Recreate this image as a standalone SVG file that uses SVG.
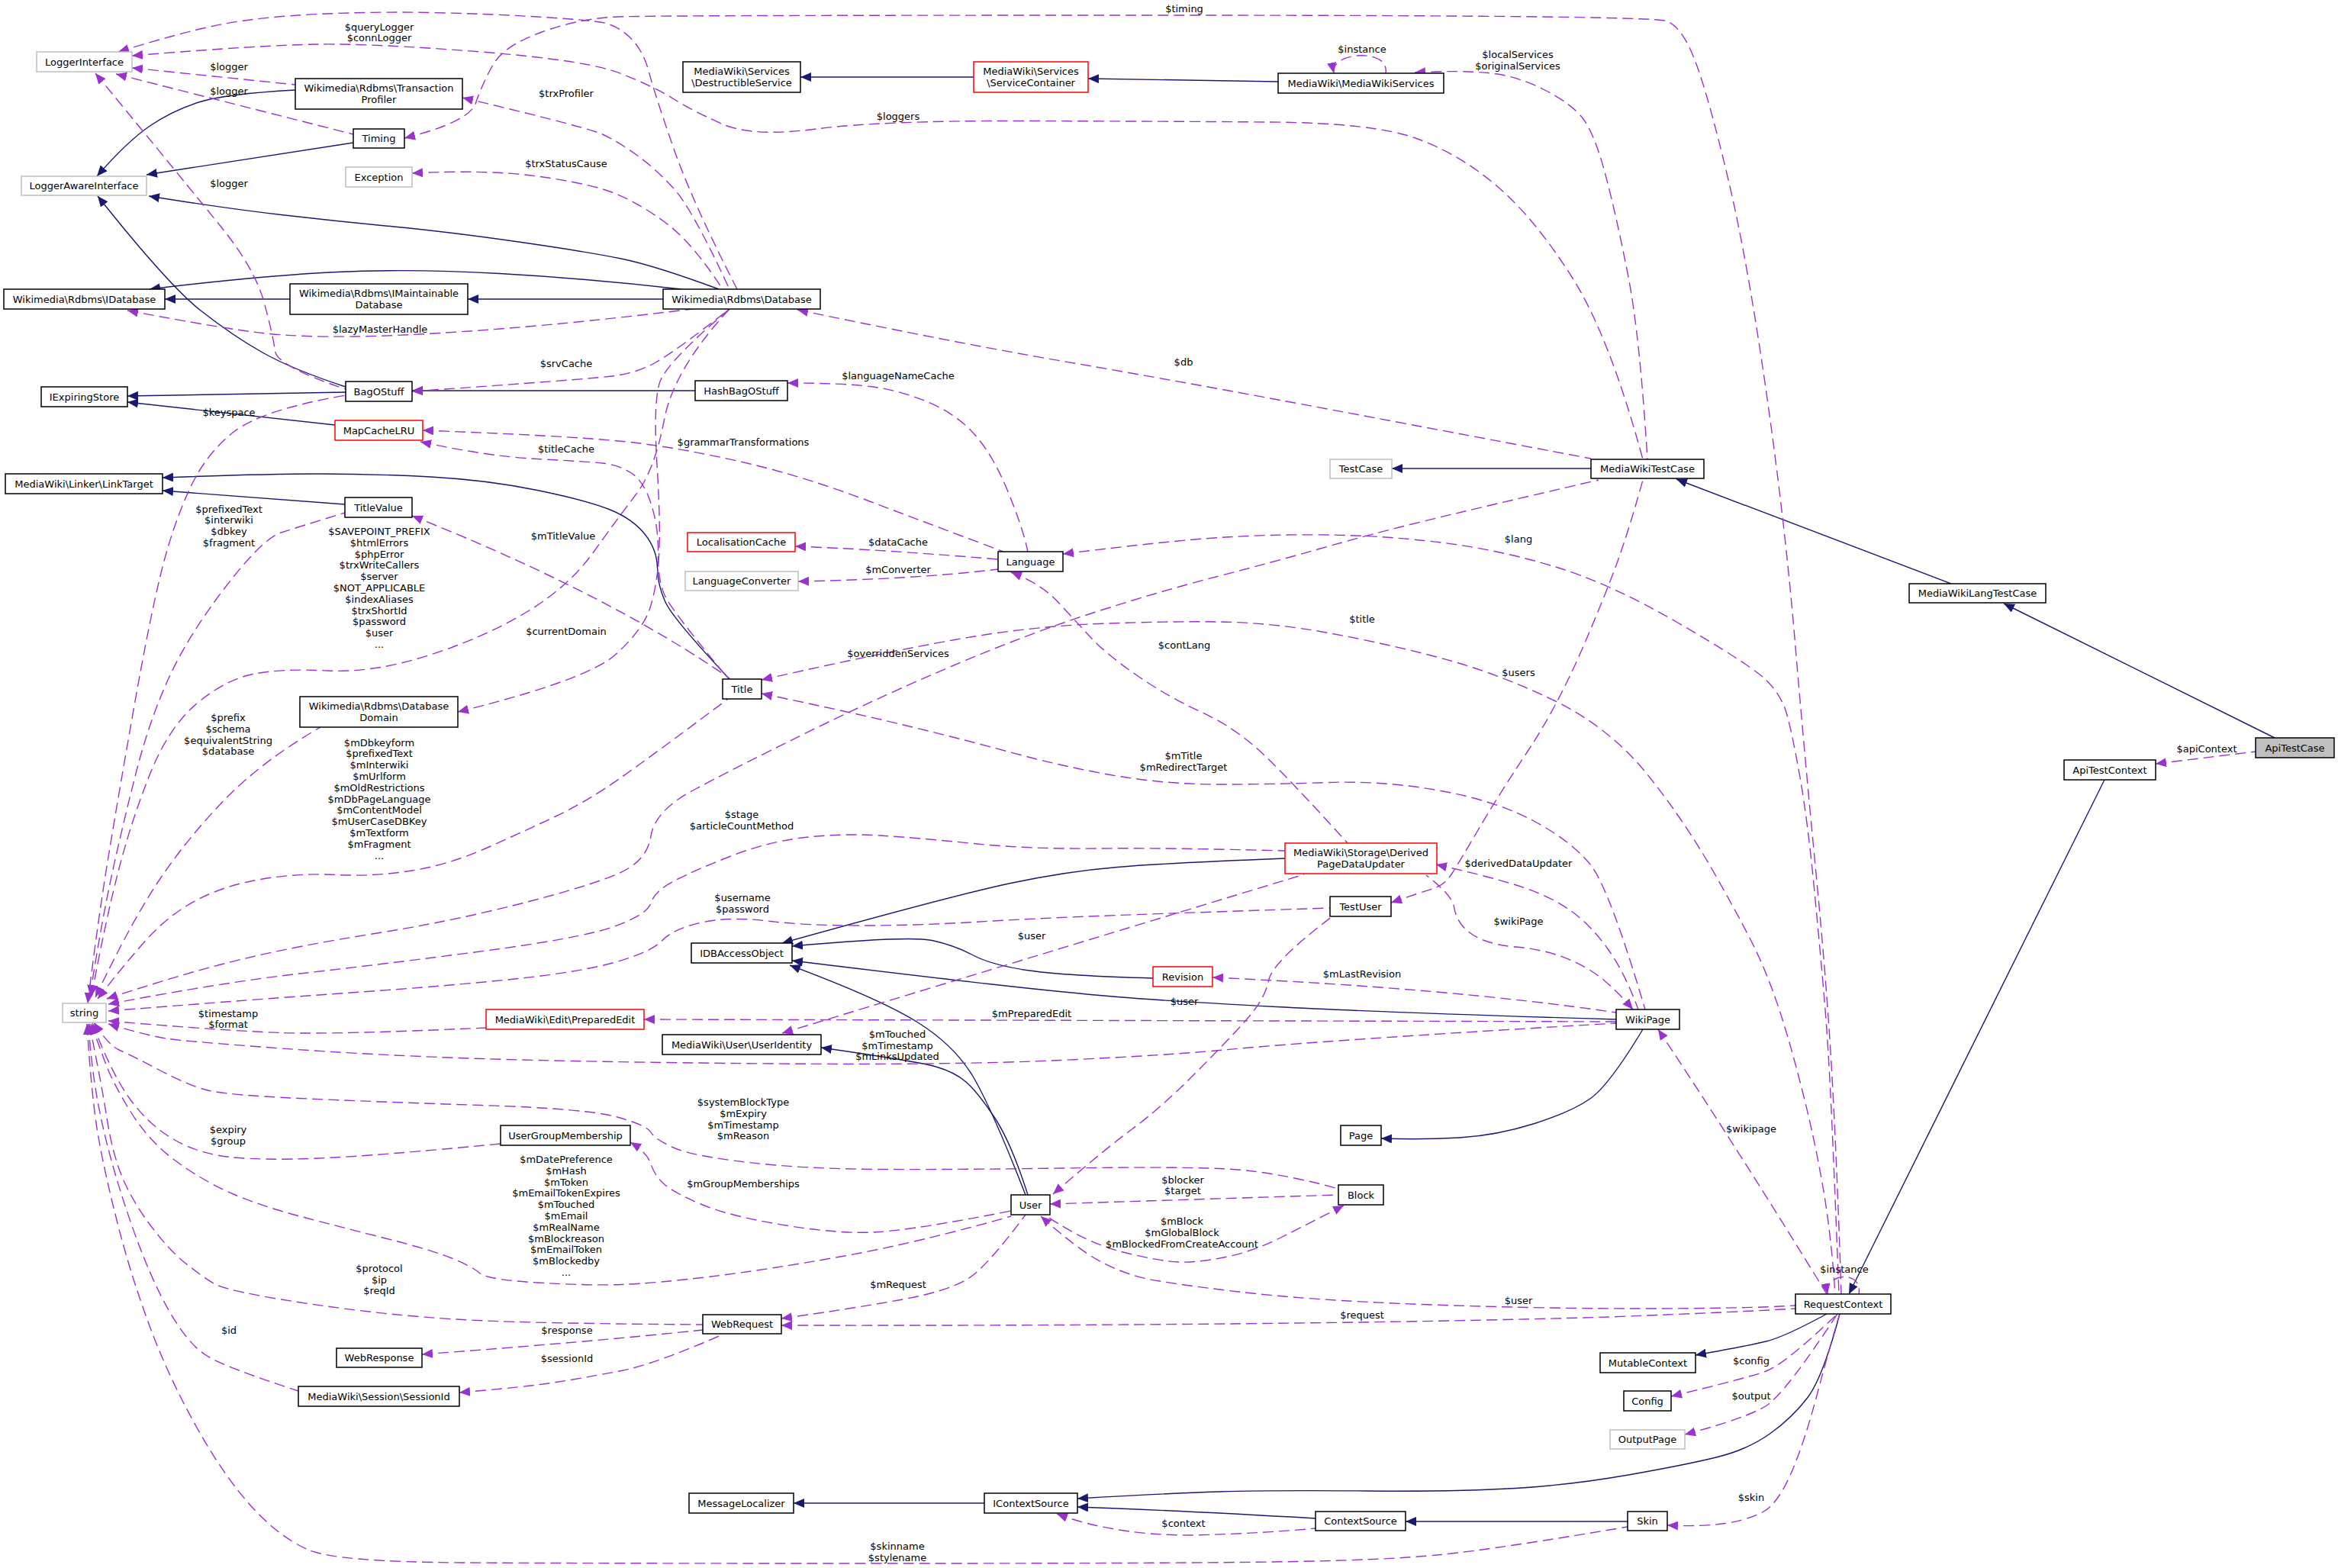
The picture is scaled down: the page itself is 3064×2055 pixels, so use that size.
<svg xmlns="http://www.w3.org/2000/svg" width="3064" height="2055" viewBox="0 0 3064 2055">
<style>
text{font-family:"DejaVu Sans","Liberation Sans",sans-serif;font-size:13px;fill:#000}
.nd rect{fill:#fff;stroke:#000;stroke-width:1.5}
.nd.g rect{stroke:#bfbfbf}
.nd.r rect{stroke:#ff0000}
.nd.f rect{fill:#bfbfbf}
.nd text,.lb text{text-anchor:middle}
.i{fill:none;stroke:#191970;stroke-width:1.4;marker-start:url(#ai)}
.u{fill:none;stroke:#9a32cd;stroke-width:1.4;stroke-dasharray:14,7;marker-start:url(#au)}
</style>
<defs>
<marker id="ai" viewBox="0 0 14 12" refX="14" refY="6" markerWidth="14" markerHeight="12" markerUnits="userSpaceOnUse" orient="auto-start-reverse"><path d="M0,0 L14,6 L0,12 z" fill="#191970"/></marker>
<marker id="au" viewBox="0 0 14 12" refX="14" refY="6" markerWidth="14" markerHeight="12" markerUnits="userSpaceOnUse" orient="auto-start-reverse"><path d="M0,0 L14,6 L0,12 z" fill="#9a32cd"/></marker>
</defs>
<rect x="0" y="0" width="3064" height="2055" fill="#fff"/>
<g id="connectors">
<!-- inheritance -->
<path class="i" d="M127,231 Q167,185 196.5,165 Q226,145 260.5,134 Q295,123 387,118"/>
<path class="i" d="M192,229 L463,187"/>
<path class="i" d="M195,257 Q295,273 368.5,281.5 Q442,290 515.5,297 Q589,304 679.5,317 Q770,330 814,339 Q858,348 942,379"/>
<path class="i" d="M196,379 Q344,361 442,356.5 Q540,352 655,358.5 Q770,365 893,379"/>
<path class="i" d="M216,392 L380,392"/>
<path class="i" d="M613,392 L869,392"/>
<path class="i" d="M128,257 Q221,374 263,407 Q305,440 344,462 Q383,484 453,507"/>
<path class="i" d="M167,519 L453,514"/>
<path class="i" d="M167,527 L439,557"/>
<path class="i" d="M540,512 L911,512"/>
<path class="i" d="M213,626 Q344,621 417.5,621 Q491,621 564.5,625 Q638,629 704,642.5 Q770,656 799.5,668 Q829,680 845,700 Q861,720 861.5,744 Q862,768 872.5,790 Q883,812 956,890"/>
<path class="i" d="M213,643 L452,661"/>
<path class="i" d="M1049,101 L1276,101"/>
<path class="i" d="M1426,103 L1675,107"/>
<path class="i" d="M1824,614 L2085,614"/>
<path class="i" d="M2197,628 L2557,765"/>
<path class="i" d="M2626,791 L2981,967"/>
<path class="i" d="M1025,1236 Q1251,1173 1324.5,1157.5 Q1398,1142 1464,1136.5 Q1530,1131 1684,1125"/>
<path class="i" d="M1038,1240 Q1192,1226 1221.5,1232.5 Q1251,1239 1275.5,1252 Q1300,1265 1349,1272 Q1398,1279 1511,1282"/>
<path class="i" d="M1038,1259 Q1202,1279 1300,1290 Q1398,1301 1464,1306.5 Q1530,1312 1672.5,1319.5 Q1815,1327 2118,1336"/>
<path class="i" d="M1035,1265 Q1153,1309 1202,1339.5 Q1251,1370 1275.5,1411.5 Q1300,1453 1344,1566"/>
<path class="i" d="M1076,1373 Q1202,1391 1226.5,1398 Q1251,1405 1266,1418 Q1281,1431 1303,1464 Q1325,1497 1347,1566"/>
<path class="i" d="M1810,1492 Q1864,1494 1913,1491 Q1962,1488 2011,1472.5 Q2060,1457 2084.5,1439.5 Q2109,1422 2153,1349"/>
<path class="i" d="M2423,1696 L2758,1022"/>
<path class="i" d="M2222,1776 Q2290,1764 2314.5,1758 Q2339,1752 2394,1722"/>
<path class="i" d="M1412,1964 Q1530,1957 1598.5,1955 Q1667,1953 1790,1954 Q1913,1955 1986.5,1950.5 Q2060,1946 2134,1933 Q2208,1920 2249,1910 Q2290,1900 2319.5,1879 Q2349,1858 2369,1831.5 Q2389,1805 2411,1722"/>
<path class="i" d="M1412,1975 Q1530,1979 1724,1990"/>
<path class="i" d="M1842,1994 L2133,1994"/>
<path class="i" d="M1040,1970 L1290,1970"/>
<!-- usage -->
<path class="u" d="M530,181 Q615,160 623.5,135 Q632,110 646,85 Q660,60 710,42 Q760,24 809,22 Q858,20 1510.5,20 Q2163,20 2184,27.5 Q2205,35 2222.5,82.5 Q2240,130 2265,235.5 Q2290,341 2314.5,512 Q2339,683 2352,836.5 Q2365,990 2380,1145 Q2395,1300 2401.5,1420.5 Q2408,1541 2413,1696"/>
<path class="u" d="M155,68 Q246,40 295,31 Q344,22 417.5,18.5 Q491,15 564.5,16.5 Q638,18 704,22 Q770,26 789.5,29.5 Q809,33 826,49.5 Q843,66 850.5,94.5 Q858,123 882.5,193.5 Q907,264 966,379"/>
<path class="u" d="M173,89 L387,111"/>
<path class="u" d="M152,97 L463,176"/>
<path class="u" d="M125,96 Q245,242 289.5,297 Q334,352 346,396 Q358,440 360.5,460 Q363,480 453,510"/>
<path class="u" d="M173,73 Q344,59 417.5,58 Q491,57 630.5,68 Q770,79 814,96.5 Q858,114 882.5,129.5 Q907,145 946.5,162.5 Q986,180 1069.5,169 Q1153,158 1341.5,158.5 Q1530,159 1665,160 Q1800,161 1856.5,181.5 Q1913,202 1962,244 Q2011,286 2060,363 Q2109,440 2153,602"/>
<path class="u" d="M606,128 Q770,167 789.5,176 Q809,185 833.5,202.5 Q858,220 882.5,246.5 Q907,273 956,379"/>
<path class="u" d="M540,227 Q638,222 704,231 Q770,240 802,252 Q834,264 870.5,290.5 Q907,317 947,379"/>
<path class="u" d="M167,407 Q295,431 344,436.5 Q393,442 466.5,441 Q540,440 655,431 Q770,422 907,405"/>
<path class="u" d="M540,513 Q770,497 802,493 Q834,489 858.5,475.5 Q883,462 956,405"/>
<path class="u" d="M115,1315 Q128,1208 142.5,1120 Q157,1032 176.5,922 Q196,812 211,751 Q226,690 248,642 Q270,594 307,565.5 Q344,537 453,518"/>
<path class="u" d="M554,564 Q770,572 838.5,581 Q907,590 981,607.5 Q1055,625 1141,657.5 Q1227,690 1315,723"/>
<path class="u" d="M551,579 Q638,598 704,601.5 Q770,605 789.5,607 Q809,609 826,619 Q843,629 853,659.5 Q863,690 862.5,725 Q862,760 871,780 Q880,800 955,890"/>
<path class="u" d="M1032,502 Q1104,502 1140.5,506.5 Q1177,511 1214,526 Q1251,541 1275.5,567.5 Q1300,594 1320,642 Q1340,690 1347,723"/>
<path class="u" d="M1045,406 Q1251,449 1390.5,473 Q1530,497 1672.5,523.5 Q1815,550 2085,601"/>
<path class="u" d="M1748,96 C1742,68 1822,62 1816,96"/>
<path class="u" d="M1854,95 Q1913,92 1950,95.5 Q1987,99 2023.5,117.5 Q2060,136 2075,156 Q2090,176 2104.5,231 Q2119,286 2134,363 Q2149,440 2159,602"/>
<path class="u" d="M2825,1001 L2956,985"/>
<path class="u" d="M1393,726 Q1530,709 1598.5,704.5 Q1667,700 1741,701 Q1815,702 1888.5,711 Q1962,720 2035.5,742 Q2109,764 2199.5,816.5 Q2290,869 2312,889 Q2334,909 2341.5,935.5 Q2349,962 2359,1019 Q2369,1076 2377.5,1164 Q2386,1252 2391,1311 Q2396,1370 2400,1455.5 Q2404,1541 2410,1696"/>
<path class="u" d="M998,891 Q1153,856 1251,838.5 Q1349,821 1439.5,817.5 Q1530,814 1598.5,815 Q1667,816 1741,829.5 Q1815,843 1888.5,862.5 Q1962,882 2035.5,917.5 Q2109,953 2158.5,1014.5 Q2208,1076 2249,1148.5 Q2290,1221 2305,1254 Q2320,1287 2333.5,1328.5 Q2347,1370 2363,1433.5 Q2379,1497 2389.5,1558.5 Q2400,1620 2405,1696"/>
<path class="u" d="M1823,1183 Q1864,1169 1878.5,1164.5 Q1893,1160 1903,1144.5 Q1913,1129 1937.5,1087 Q1962,1045 2001.5,985.5 Q2041,926 2075,847 Q2109,768 2124,724 Q2139,680 2153,629"/>
<path class="u" d="M140,1309 Q246,1274 319.5,1256.5 Q393,1239 491,1223.5 Q589,1208 679.5,1185 Q770,1162 809,1145.5 Q848,1129 853,1096 Q858,1063 907,1036.5 Q956,1010 1054.5,961.5 Q1153,913 1251,871.5 Q1349,830 1434.5,802.5 Q1520,775 1593.5,756 Q1667,737 1728.5,719.5 Q1790,702 1834,691 Q1878,680 1920,670 Q1962,660 2095,629"/>
<path class="u" d="M128,1309 Q162,1265 191.5,1232 Q221,1199 258,1179.5 Q295,1160 344,1152 Q393,1144 442,1146.5 Q491,1149 540,1141 Q589,1133 638.5,1111 Q688,1089 729,1069.5 Q770,1050 814,1019 Q858,988 954,916"/>
<path class="u" d="M120,1305 Q138,1208 155,1142 Q172,1076 196.5,1014.5 Q221,953 258,922 Q295,891 331.5,883.5 Q368,876 429.5,879 Q491,882 564.5,858 Q638,834 692,801 Q746,768 777.5,724 Q809,680 833.5,648 Q858,616 870.5,550 Q883,484 956,405"/>
<path class="u" d="M125,1307 Q172,1208 209,1153 Q246,1098 295,1047.5 Q344,997 420,953"/>
<path class="u" d="M118,1305 Q133,1208 147.5,1142 Q162,1076 179,1010 Q196,944 221,889 Q246,834 295,770 Q344,706 368.5,698 Q393,690 452,672"/>
<path class="u" d="M540,676 C600,700 800,780 956,889"/>
<path class="u" d="M600,933 Q770,891 806.5,858 Q843,825 852,796.5 Q861,768 863.5,729 Q866,690 861,609 Q856,528 864.5,501.5 Q873,475 956,405"/>
<path class="u" d="M1042,716 Q1153,720 1308,733"/>
<path class="u" d="M1046,762 Q1202,759 1308,746"/>
<path class="u" d="M1325,750 Q1364,765 1386,788.5 Q1408,812 1428,834 Q1448,856 1489,884.5 Q1530,913 1574,933 Q1618,953 1655,988 Q1692,1023 1766,1105"/>
<path class="u" d="M998,909 Q1104,931 1177.5,948.5 Q1251,966 1324.5,986 Q1398,1006 1464,1017 Q1530,1028 1598.5,1028 Q1667,1028 1741,1025.5 Q1815,1023 1888.5,1036.5 Q1962,1050 2011,1076.5 Q2060,1103 2084.5,1133.5 Q2109,1164 2156,1323"/>
<path class="u" d="M142,1316 Q295,1287 393,1276 Q491,1265 625.5,1247.5 Q760,1230 804,1214.5 Q848,1199 853,1183.5 Q858,1168 882.5,1155 Q907,1142 956.5,1122.5 Q1006,1103 1055,1097.5 Q1104,1092 1153,1095 Q1202,1098 1275.5,1105.5 Q1349,1113 1439.5,1112 Q1530,1111 1684,1115"/>
<path class="u" d="M142,1325 Q344,1309 466.5,1300.5 Q589,1292 674.5,1283 Q760,1274 806.5,1261 Q853,1248 868,1232.5 Q883,1217 919.5,1209 Q956,1201 1005.5,1207 Q1055,1213 1128.5,1213 Q1202,1213 1275.5,1208.5 Q1349,1204 1439.5,1200.5 Q1530,1197 1743,1190"/>
<path class="u" d="M1025,1354 Q1400,1240 1709,1146"/>
<path class="u" d="M844,1336 L2118,1339"/>
<path class="u" d="M142,1342 Q196,1358 221,1361.5 Q246,1365 368.5,1374 Q491,1383 630.5,1387.5 Q770,1392 1010.5,1394 Q1251,1396 1390.5,1389.5 Q1530,1383 1598.5,1376.5 Q1667,1370 1790,1361.5 Q1913,1353 2118,1341"/>
<path class="u" d="M142,1338 Q295,1351 368.5,1353.5 Q442,1356 637,1347"/>
<path class="u" d="M1589,1281 Q1900,1295 2118,1327"/>
<path class="u" d="M1882,1133 Q1962,1151 1999,1164 Q2036,1177 2060.5,1195 Q2085,1213 2107,1243.5 Q2129,1274 2147,1323"/>
<path class="u" d="M2140,1323 Q2109,1287 2084.5,1272 Q2060,1257 2035.5,1250 Q2011,1243 1986.5,1241 Q1962,1239 1945,1232.5 Q1928,1226 1918,1215 Q1908,1204 1905.5,1188.5 Q1903,1173 1869,1147"/>
<path class="u" d="M2173,1349 Q2280,1510 2394,1696"/>
<path class="u" d="M123,1340 Q142,1370 157,1376.5 Q172,1383 209,1402.5 Q246,1422 270.5,1428.5 Q295,1435 393,1439.5 Q491,1444 630.5,1448.5 Q770,1453 809,1464 Q848,1475 853,1484 Q858,1493 882.5,1504 Q907,1515 981,1523.5 Q1055,1532 1153,1532.5 Q1251,1533 1390.5,1531 Q1530,1529 1598.5,1531.5 Q1667,1534 1754,1558"/>
<path class="u" d="M121,1341 Q147,1409 171.5,1442 Q196,1475 228,1493.5 Q260,1512 302,1516.5 Q344,1521 417.5,1518 Q491,1515 656,1499"/>
<path class="u" d="M826,1497 Q848,1510 853,1525.5 Q858,1541 870.5,1552 Q883,1563 919.5,1578.5 Q956,1594 1030,1606 Q1104,1618 1153,1614.5 Q1202,1611 1325,1587"/>
<path class="u" d="M119,1342 Q128,1365 137.5,1391.5 Q147,1418 171.5,1457.5 Q196,1497 233,1523.5 Q270,1550 307,1565.5 Q344,1581 393,1594 Q442,1607 503.5,1622.5 Q565,1638 592,1649 Q619,1660 628.5,1668.5 Q638,1677 704,1681 Q770,1685 814,1683.5 Q858,1682 932,1673 Q1006,1664 1104,1646.5 Q1202,1629 1325,1594"/>
<path class="u" d="M117,1342 Q133,1420 140,1465 Q147,1510 159.5,1541 Q172,1572 196.5,1605 Q221,1638 243,1655.5 Q265,1673 280,1682 Q295,1691 368.5,1703 Q442,1715 515.5,1722.5 Q589,1730 679.5,1732.5 Q770,1735 921,1736"/>
<path class="u" d="M553,1775 Q770,1759 921,1743"/>
<path class="u" d="M602,1825 Q688,1818 729,1811.5 Q770,1805 814,1796.5 Q858,1788 947,1749"/>
<path class="u" d="M116,1342 Q120,1409 133.5,1470.5 Q147,1532 171.5,1602.5 Q196,1673 221,1717 Q246,1761 270.5,1776.5 Q295,1792 391,1823"/>
<path class="u" d="M114,1342 Q120,1440 129,1490.5 Q138,1541 155,1607 Q172,1673 196.5,1739 Q221,1805 258,1871 Q295,1937 331.5,1976.5 Q368,2016 405,2031.5 Q442,2047 606,2048 Q770,2049 1145,2049 Q1520,2049 1667.5,2047 Q1815,2045 1888.5,2037.5 Q1962,2030 2133,2001"/>
<path class="u" d="M1024,1728 Q1104,1717 1177.5,1704 Q1251,1691 1275.5,1671 Q1300,1651 1344,1592"/>
<path class="u" d="M1024,1737 Q1700,1738 2109,1726 Q2290,1719 2353,1715"/>
<path class="u" d="M1364,1594 Q1413,1638 1442.5,1653.5 Q1472,1669 1501,1675.5 Q1530,1682 1623,1693 Q1716,1704 1863.5,1709.5 Q2011,1715 2150.5,1715 Q2290,1715 2353,1711"/>
<path class="u" d="M1376,1578 Q1530,1573 1754,1566"/>
<path class="u" d="M1761,1580 Q1716,1603 1679.5,1621.5 Q1643,1640 1606,1647.5 Q1569,1655 1544.5,1654 Q1520,1653 1471.5,1641 Q1423,1629 1369,1592"/>
<path class="u" d="M1380,1565 Q1448,1506 1484,1479.5 Q1520,1453 1564,1409 Q1608,1365 1633,1337 Q1658,1309 1662.5,1285 Q1667,1261 1746,1201"/>
<path class="u" d="M2190,1830 Q2290,1806 2314.5,1797 Q2339,1788 2408,1722"/>
<path class="u" d="M2208,1880 Q2290,1858 2314.5,1842.5 Q2339,1827 2408,1722"/>
<path class="u" d="M2185,1999 Q2232,2001 2261,1996.5 Q2290,1992 2309.5,1982 Q2329,1972 2346.5,1932.5 Q2364,1893 2381.5,1827 Q2399,1761 2411,1722"/>
<path class="u" d="M1385,1984 Q1460,2012 1560,2012 Q1650,2010 1724,2003"/>
<path class="u" d="M2395,1696 C2390,1668 2442,1664 2436,1696"/>
</g>
<g id="edge-labels" class="lb">
<text x="1552" y="15.5">$timing</text>
<text x="497" y="39.5">$queryLogger<tspan x="497" dy="14.5">$connLogger</tspan></text>
<text x="300" y="91.5">$logger</text>
<text x="300" y="123.5">$logger</text>
<text x="300" y="244.5">$logger</text>
<text x="1177" y="156.5">$loggers</text>
<text x="742" y="126.5">$trxProfiler</text>
<text x="742" y="218.5">$trxStatusCause</text>
<text x="498" y="435.5">$lazyMasterHandle</text>
<text x="742" y="480.5">$srvCache</text>
<text x="300" y="545">$keyspace</text>
<text x="974" y="583.5">$grammarTransformations</text>
<text x="742" y="592.5">$titleCache</text>
<text x="1177" y="497">$languageNameCache</text>
<text x="1551" y="479">$db</text>
<text x="1785" y="68.5">$instance</text>
<text x="1989" y="76">$localServices<tspan x="1989" dy="15">$originalServices</tspan></text>
<text x="2892" y="985.5">$apiContext</text>
<text x="1990" y="711">$lang</text>
<text x="1785" y="815.5">$title</text>
<text x="1990" y="885.5">$users</text>
<text x="1177" y="860.5">$overriddenServices</text>
<text x="1552" y="849.5">$contLang</text>
<text x="1551" y="994.5">$mTitle<tspan x="1551" dy="15">$mRedirectTarget</tspan></text>
<text x="497" y="977.5">$mDbkeyform<tspan x="497" dy="14.8">$prefixedText</tspan><tspan x="497" dy="14.8">$mInterwiki</tspan><tspan x="497" dy="14.8">$mUrlform</tspan><tspan x="497" dy="14.8">$mOldRestrictions</tspan><tspan x="497" dy="14.8">$mDbPageLanguage</tspan><tspan x="497" dy="14.8">$mContentModel</tspan><tspan x="497" dy="14.8">$mUserCaseDBKey</tspan><tspan x="497" dy="14.8">$mTextform</tspan><tspan x="497" dy="14.8">$mFragment</tspan><tspan x="497" dy="14.8">...</tspan></text>
<text x="497" y="701">$SAVEPOINT_PREFIX<tspan x="497" dy="14.8">$htmlErrors</tspan><tspan x="497" dy="14.8">$phpError</tspan><tspan x="497" dy="14.8">$trxWriteCallers</tspan><tspan x="497" dy="14.8">$server</tspan><tspan x="497" dy="14.8">$NOT_APPLICABLE</tspan><tspan x="497" dy="14.8">$indexAliases</tspan><tspan x="497" dy="14.8">$trxShortId</tspan><tspan x="497" dy="14.8">$password</tspan><tspan x="497" dy="14.8">$user</tspan><tspan x="497" dy="14.8">...</tspan></text>
<text x="299" y="945">$prefix<tspan x="299" dy="14.8">$schema</tspan><tspan x="299" dy="14.8">$equivalentString</tspan><tspan x="299" dy="14.8">$database</tspan></text>
<text x="300" y="671.5">$prefixedText<tspan x="300" dy="14.8">$interwiki</tspan><tspan x="300" dy="14.8">$dbkey</tspan><tspan x="300" dy="14.8">$fragment</tspan></text>
<text x="738" y="706.5">$mTitleValue</text>
<text x="742" y="831.5">$currentDomain</text>
<text x="1177" y="714.5">$dataCache</text>
<text x="1177" y="750.5">$mConverter</text>
<text x="972" y="1072">$stage<tspan x="972" dy="15">$articleCountMethod</tspan></text>
<text x="973" y="1181">$username<tspan x="973" dy="15">$password</tspan></text>
<text x="1352" y="1231">$user</text>
<text x="1352" y="1333">$mPreparedEdit</text>
<text x="1176" y="1360">$mTouched<tspan x="1176" dy="14.5">$mTimestamp</tspan><tspan x="1176" dy="14.5">$mLinksUpdated</tspan></text>
<text x="1785" y="1281">$mLastRevision</text>
<text x="1990" y="1135.5">$derivedDataUpdater</text>
<text x="1990" y="1211.5">$wikiPage</text>
<text x="2295" y="1484">$wikipage</text>
<text x="1552" y="1316.5">$user</text>
<text x="299" y="1332.5">$timestamp<tspan x="299" dy="14.5">$format</tspan></text>
<text x="974" y="1449">$systemBlockType<tspan x="974" dy="14.8">$mExpiry</tspan><tspan x="974" dy="14.8">$mTimestamp</tspan><tspan x="974" dy="14.8">$mReason</tspan></text>
<text x="299" y="1484.5">$expiry<tspan x="299" dy="15">$group</tspan></text>
<text x="974" y="1556">$mGroupMemberships</text>
<text x="742" y="1524">$mDatePreference<tspan x="742" dy="14.8">$mHash</tspan><tspan x="742" dy="14.8">$mToken</tspan><tspan x="742" dy="14.8">$mEmailTokenExpires</tspan><tspan x="742" dy="14.8">$mTouched</tspan><tspan x="742" dy="14.8">$mEmail</tspan><tspan x="742" dy="14.8">$mRealName</tspan><tspan x="742" dy="14.8">$mBlockreason</tspan><tspan x="742" dy="14.8">$mEmailToken</tspan><tspan x="742" dy="14.8">$mBlockedby</tspan><tspan x="742" dy="14.8">...</tspan></text>
<text x="497" y="1667">$protocol<tspan x="497" dy="14.6">$ip</tspan><tspan x="497" dy="14.6">$reqId</tspan></text>
<text x="743" y="1748">$response</text>
<text x="743" y="1785">$sessionId</text>
<text x="300" y="1748">$id</text>
<text x="1176" y="2031">$skinname<tspan x="1176" dy="14.5">$stylename</tspan></text>
<text x="1177" y="1687.5">$mRequest</text>
<text x="1785" y="1728">$request</text>
<text x="1990" y="1708.5">$user</text>
<text x="1550" y="1551">$blocker<tspan x="1550" dy="14.2">$target</tspan></text>
<text x="1549" y="1605">$mBlock<tspan x="1549" dy="15">$mGlobalBlock</tspan><tspan x="1549" dy="15">$mBlockedFromCreateAccount</tspan></text>
<text x="2295" y="1787.5">$config</text>
<text x="2295" y="1833.5">$output</text>
<text x="2295" y="1967">$skin</text>
<text x="1551" y="2001">$context</text>
<text x="2417" y="1668">$instance</text>
</g>
<g id="nodes">
<g id="n-LoggerInterface" class="nd g"><rect x="48" y="68" width="125" height="26"/><text x="110.5" y="85.5">LoggerInterface</text></g>
<g id="n-TransactionProfiler" class="nd"><rect x="387" y="103" width="219" height="40"/><text x="496.5" y="120">Wikimedia\Rdbms\Transaction<tspan x="496.5" dy="14.5">Profiler</tspan></text></g>
<g id="n-Timing" class="nd"><rect x="463" y="169" width="67" height="25"/><text x="496.5" y="186">Timing</text></g>
<g id="n-Exception" class="nd g"><rect x="453" y="219" width="87" height="26"/><text x="496.5" y="236.5">Exception</text></g>
<g id="n-LoggerAwareInterface" class="nd g"><rect x="28" y="231" width="164" height="25"/><text x="110" y="248">LoggerAwareInterface</text></g>
<g id="n-IDatabase" class="nd"><rect x="5" y="379" width="211" height="26"/><text x="110.5" y="396.5">Wikimedia\Rdbms\IDatabase</text></g>
<g id="n-IMaintainableDatabase" class="nd"><rect x="380" y="372" width="233" height="40"/><text x="496.5" y="389">Wikimedia\Rdbms\IMaintainable<tspan x="496.5" dy="14.5">Database</tspan></text></g>
<g id="n-IExpiringStore" class="nd"><rect x="54" y="507" width="113" height="26"/><text x="110.5" y="524.5">IExpiringStore</text></g>
<g id="n-BagOStuff" class="nd"><rect x="453" y="500" width="87" height="26"/><text x="496.5" y="517.5">BagOStuff</text></g>
<g id="n-MapCacheLRU" class="nd r"><rect x="439" y="551" width="115" height="26"/><text x="496.5" y="568.5">MapCacheLRU</text></g>
<g id="n-LinkTarget" class="nd"><rect x="7" y="621" width="206" height="26"/><text x="110" y="638.5">MediaWiki\Linker\LinkTarget</text></g>
<g id="n-TitleValue" class="nd"><rect x="452" y="652" width="88" height="26"/><text x="496" y="669.5">TitleValue</text></g>
<g id="n-DestructibleService" class="nd"><rect x="895" y="81" width="154" height="40"/><text x="972" y="98">MediaWiki\Services<tspan x="972" dy="14.5">\DestructibleService</tspan></text></g>
<g id="n-ServiceContainer" class="nd r"><rect x="1276" y="81" width="150" height="40"/><text x="1351" y="98">MediaWiki\Services<tspan x="1351" dy="14.5">\ServiceContainer</tspan></text></g>
<g id="n-Database" class="nd"><rect x="869" y="379" width="206" height="26"/><text x="972" y="396.5">Wikimedia\Rdbms\Database</text></g>
<g id="n-HashBagOStuff" class="nd"><rect x="911" y="499" width="121" height="26"/><text x="971.5" y="516.5">HashBagOStuff</text></g>
<g id="n-MediaWikiServices" class="nd"><rect x="1675" y="96" width="217" height="26"/><text x="1783.5" y="113.5">MediaWiki\MediaWikiServices</text></g>
<g id="n-TestCase" class="nd g"><rect x="1743" y="602" width="81" height="25"/><text x="1783.5" y="619">TestCase</text></g>
<g id="n-MediaWikiTestCase" class="nd"><rect x="2085" y="602" width="148" height="25"/><text x="2159" y="619">MediaWikiTestCase</text></g>
<g id="n-MediaWikiLangTestCase" class="nd"><rect x="2502" y="765" width="179" height="25"/><text x="2591.5" y="782">MediaWikiLangTestCase</text></g>
<g id="n-ApiTestCase" class="nd f"><rect x="2956" y="967" width="103" height="26"/><text x="3007.5" y="984.5">ApiTestCase</text></g>
<g id="n-ApiTestContext" class="nd"><rect x="2705" y="996" width="120" height="26"/><text x="2765" y="1013.5">ApiTestContext</text></g>
<g id="n-DatabaseDomain" class="nd"><rect x="393" y="913" width="207" height="40"/><text x="496.5" y="930">Wikimedia\Rdbms\Database<tspan x="496.5" dy="14.5">Domain</tspan></text></g>
<g id="n-string" class="nd g"><rect x="82" y="1315" width="57" height="25"/><text x="110.5" y="1332">string</text></g>
<g id="n-PreparedEdit" class="nd r"><rect x="637" y="1323" width="207" height="26"/><text x="740.5" y="1340.5">MediaWiki\Edit\PreparedEdit</text></g>
<g id="n-LocalisationCache" class="nd r"><rect x="901" y="698" width="141" height="25"/><text x="971.5" y="715">LocalisationCache</text></g>
<g id="n-LanguageConverter" class="nd g"><rect x="898" y="749" width="148" height="25"/><text x="972" y="766">LanguageConverter</text></g>
<g id="n-Language" class="nd"><rect x="1308" y="723" width="85" height="26"/><text x="1350.5" y="740.5">Language</text></g>
<g id="n-Title" class="nd"><rect x="947" y="890" width="51" height="26"/><text x="972.5" y="907.5">Title</text></g>
<g id="n-IDBAccessObject" class="nd"><rect x="906" y="1236" width="132" height="26"/><text x="972" y="1253.5">IDBAccessObject</text></g>
<g id="n-Revision" class="nd r"><rect x="1511" y="1267" width="78" height="26"/><text x="1550" y="1284.5">Revision</text></g>
<g id="n-UserIdentity" class="nd"><rect x="868" y="1356" width="208" height="26"/><text x="972" y="1373.5">MediaWiki\User\UserIdentity</text></g>
<g id="n-DerivedPageDataUpdater" class="nd r"><rect x="1684" y="1105" width="199" height="40"/><text x="1783.5" y="1122">MediaWiki\Storage\Derived<tspan x="1783.5" dy="14.5">PageDataUpdater</tspan></text></g>
<g id="n-TestUser" class="nd"><rect x="1743" y="1175" width="80" height="26"/><text x="1783" y="1192.5">TestUser</text></g>
<g id="n-WikiPage" class="nd"><rect x="2118" y="1323" width="83" height="26"/><text x="2159.5" y="1340.5">WikiPage</text></g>
<g id="n-UserGroupMembership" class="nd"><rect x="656" y="1475" width="170" height="26"/><text x="741" y="1492.5">UserGroupMembership</text></g>
<g id="n-WebResponse" class="nd"><rect x="441" y="1767" width="112" height="25"/><text x="497" y="1784">WebResponse</text></g>
<g id="n-SessionId" class="nd"><rect x="391" y="1817" width="211" height="26"/><text x="496.5" y="1834.5">MediaWiki\Session\SessionId</text></g>
<g id="n-User" class="nd"><rect x="1325" y="1566" width="51" height="26"/><text x="1350.5" y="1583.5">User</text></g>
<g id="n-WebRequest" class="nd"><rect x="921" y="1723" width="103" height="25"/><text x="972.5" y="1740">WebRequest</text></g>
<g id="n-MessageLocalizer" class="nd"><rect x="903" y="1957" width="137" height="26"/><text x="971.5" y="1974.5">MessageLocalizer</text></g>
<g id="n-IContextSource" class="nd"><rect x="1290" y="1957" width="122" height="26"/><text x="1351" y="1974.5">IContextSource</text></g>
<g id="n-Page" class="nd"><rect x="1757" y="1475" width="53" height="26"/><text x="1783.5" y="1492.5">Page</text></g>
<g id="n-Block" class="nd"><rect x="1754" y="1553" width="59" height="26"/><text x="1783.5" y="1570.5">Block</text></g>
<g id="n-MutableContext" class="nd"><rect x="2097" y="1773" width="125" height="26"/><text x="2159.5" y="1790.5">MutableContext</text></g>
<g id="n-Config" class="nd"><rect x="2128" y="1823" width="62" height="26"/><text x="2159" y="1840.5">Config</text></g>
<g id="n-OutputPage" class="nd g"><rect x="2110" y="1874" width="98" height="25"/><text x="2159" y="1891">OutputPage</text></g>
<g id="n-ContextSource" class="nd"><rect x="1724" y="1981" width="118" height="25"/><text x="1783" y="1998">ContextSource</text></g>
<g id="n-Skin" class="nd"><rect x="2133" y="1981" width="52" height="25"/><text x="2159" y="1998">Skin</text></g>
<g id="n-RequestContext" class="nd"><rect x="2353" y="1696" width="125" height="26"/><text x="2415.5" y="1713.5">RequestContext</text></g>
</g>
</svg>
